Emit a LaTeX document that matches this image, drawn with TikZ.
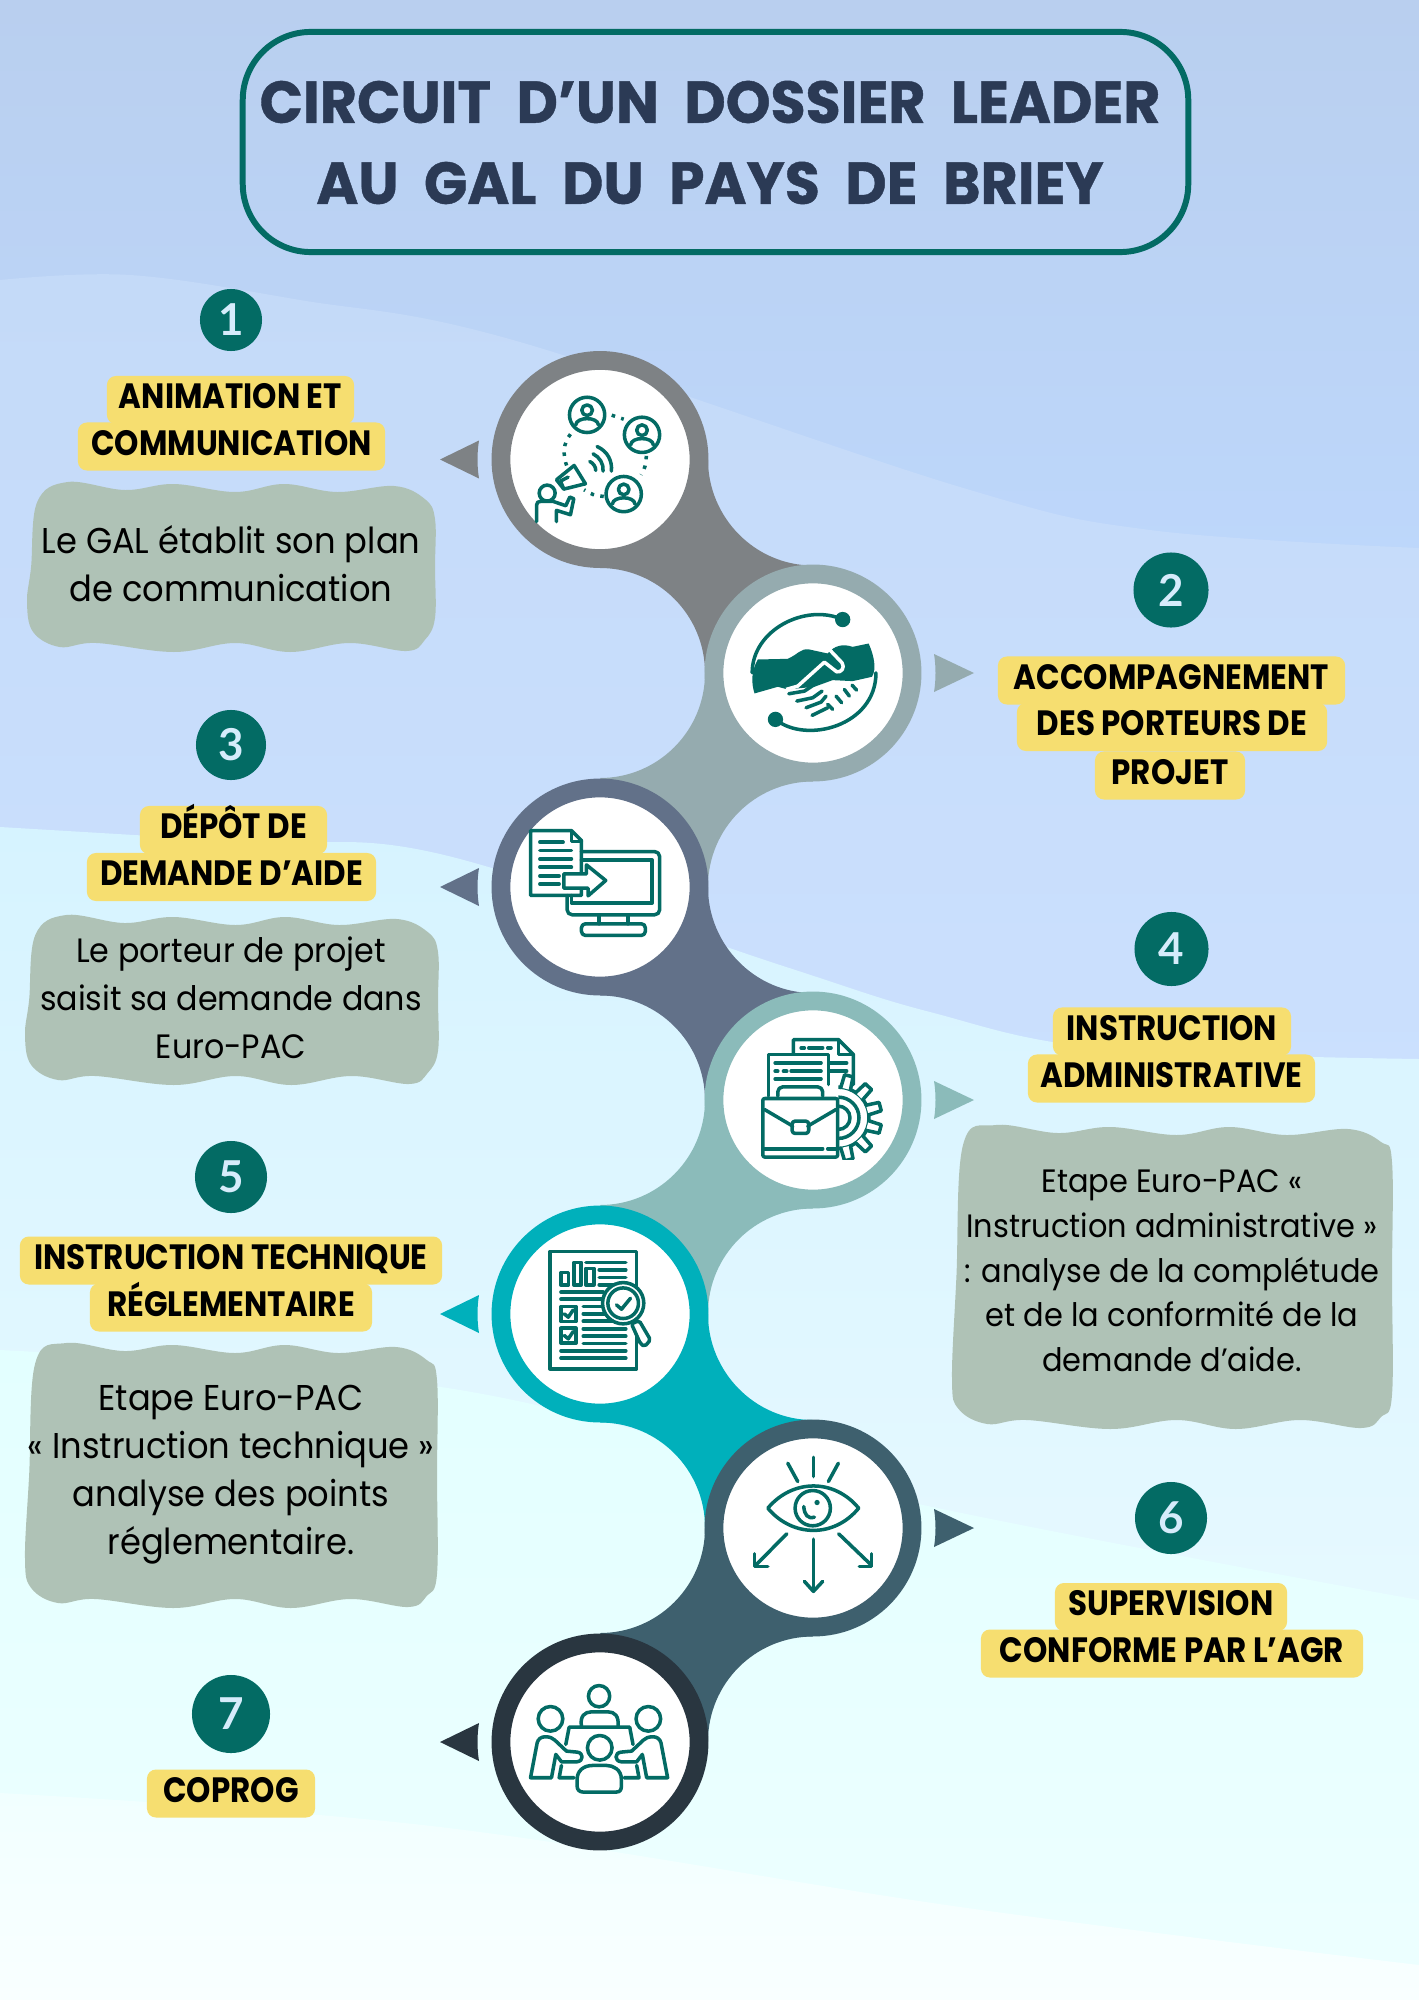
\documentclass[tikz,border=0pt]{standalone}
\usepackage{fontspec}
\usepackage{tikz}
\usetikzlibrary{shapes}
\newfontfamily\titlefont[FakeStretch=0.965,WordSpace=2.1,BoldFeatures={FakeBold=0.7}]{Poppins}
\newfontfamily\labelfont[FakeStretch=0.88]{Poppins}
\newfontfamily\bodyfont[FakeStretch=0.94]{Poppins}
\newfontfamily\digitfont{Lato}
\definecolor{tealdark}{HTML}{036B64}
\definecolor{navytitle}{HTML}{2B3A55}
\definecolor{hiliteyellow}{HTML}{F6DE70}
\definecolor{blobgreen}{HTML}{AFC2B6}
\definecolor{digitblue}{HTML}{D6ECFB}
\definecolor{ringA}{HTML}{7E8285}
\definecolor{ringB}{HTML}{95ABAF}
\definecolor{ringC}{HTML}{627189}
\definecolor{ringD}{HTML}{8BBBBA}
\definecolor{ringE}{HTML}{00B0BB}
\definecolor{ringF}{HTML}{3E606E}
\definecolor{ringG}{HTML}{293640}
\definecolor{skyA}{HTML}{B9CFEF}
\definecolor{skyAb}{HTML}{BDD7FB}
\definecolor{skyB}{HTML}{C4DAF8}
\definecolor{skyBb}{HTML}{CBE0FE}
\definecolor{skyC}{HTML}{D6F3FF}
\definecolor{skyCb}{HTML}{E6F9FF}
\definecolor{skyD}{HTML}{E3FFFF}
\definecolor{skyDb}{HTML}{EDFFFF}
\definecolor{skyE}{HTML}{F1FFFF}
\definecolor{skyEb}{HTML}{F9FFFF}
\pgfdeclarelayer{backlayer}
\pgfdeclarelayer{edgelayer}
\pgfdeclarelayer{nodelayer}
\pgfsetlayers{backlayer,edgelayer,nodelayer,main}
\tikzset{
  titlebox/.style={rectangle,rounded corners=0.68cm,draw=tealdark,line width=1.7pt,minimum width=9.45cm,minimum height=2.2cm,inner sep=0pt},
  titletext/.style={inner sep=0pt,text=navytitle,font=\titlefont\bfseries\fontsize{16.8}{20}\selectfont},
  ringnode/.style={circle,fill=white,draw=#1,line width=0.188cm,minimum size=1.98cm,inner sep=0pt},
  digitnode/.style={circle,fill=tealdark,text=digitblue,inner sep=0pt,minimum size=#1,font=\digitfont\bfseries\fontsize{12.5}{14}\selectfont},
  hilite/.style={rectangle,rounded corners=0.09cm,fill=hiliteyellow,inner sep=0pt,minimum height=0.48cm,minimum width=#1,text=black,text height=0.245cm,text depth=0.07cm,font=\labelfont\bfseries\fontsize{10}{12}\selectfont},
  blobtext/.style={inner sep=0pt,align=center,text=black,font=\bodyfont\fontsize{10.2}{13.66}\selectfont},
  blobfill/.style={fill=blobgreen},
  iconline/.style={draw=tealdark,line width=1pt,line cap=round,line join=round},
  iconA/.style={shift={(440,340)},x=0.003333cm,y=-0.003333cm},
  iconB/.style={shift={(440,780)},x=0.003333cm,y=-0.003333cm},
  iconC/.style={shift={(520,1230)},x=0.003333cm,y=-0.003333cm},
  iconD/.style={shift={(440,1400)},x=0.003333cm,y=-0.003333cm}
}
% band from a ring on the left to the next one on the right, and back
\newcommand{\bandright}[2]{\fill[#2,shift={(#1.center)}] (108,0) .. controls (108,58) and (155,106) .. (213,106) -- (105,213.5) .. controls (105,155.5) and (58,108.5) .. (0,108.5) -- cycle;}
\newcommand{\bandleft}[2]{\fill[#2,shift={(#1.center)}] (-108,0) .. controls (-108,58) and (-155,105) .. (-213,105) -- (-105,213.5) .. controls (-105,155.5) and (-58,108.5) .. (0,108.5) -- cycle;}
\newcommand{\tipleft}[2]{\fill[#2,shift={(#1.center)}] (-160,0) -- (-121,-19) .. controls (-123,-7) and (-123,7) .. (-121,19) -- cycle;}
\newcommand{\tipright}[2]{\fill[#2,shift={(#1.center)}] (161,0) -- (121,-19) .. controls (123,-7) and (123,7) .. (121,19) -- cycle;}
% wavy text panel: left, top, right, bottom
\newcommand{\waveblob}[4]{%
  \pgfmathsetmacro{\wx}{(#3-#1)/100}%
  \pgfmathsetmacro{\hy}{(#4-#2)/100}%
  \fill[style=blobfill] plot[smooth cycle,tension=0.62] coordinates {
    ({#1+10*\wx},{#2}) ({#1+24*\wx},{#2+8}) ({#1+36*\wx},{#2+2}) ({#1+51*\wx},{#2+10})
    ({#1+63*\wx},{#2+2}) ({#1+76*\wx},{#2+10}) ({#1+90*\wx},{#2+4}) ({#1+97.5*\wx},{#2+17})
    ({#1+100*\wx},{#2+37}) ({#1+100*\wx},{#2+50*\hy}) ({#1+100*\wx},{#4-34})
    ({#1+97.5*\wx},{#4-12}) ({#1+93*\wx},{#4-1}) ({#1+79*\wx},{#4-9}) ({#1+64.5*\wx},{#4})
    ({#1+51*\wx},{#4-9}) ({#1+36*\wx},{#4}) ({#1+17*\wx},{#4-9}) ({#1+8*\wx},{#4-5})
    ({#1+1.5*\wx},{#4-20}) ({#1},{#4-50}) ({#1+1*\wx},{#2+50*\hy}) ({#1+2.5*\wx},{#2+20})
  };%
}
\newcommand{\personbadge}[2]{%
  \draw[style=iconline] (#1,#2) circle (53);
  \draw[style=iconline] (#1,{#2-14}) circle (16);
  \draw[style=iconline] ({#1-34},{#2+30}) .. controls ({#1-32},{#2+5}) and ({#1+32},{#2+5}) .. ({#1+34},{#2+30});
}
\begin{document}
\begin{tikzpicture}[x=0.01cm,y=-0.01cm]
	\useasboundingbox (0,0) rectangle (1419,2000);
	\begin{pgfonlayer}{backlayer}
		\shade[top color=skyA,bottom color=skyAb] (0,0) rectangle (1419,560);
		\shade[top color=skyB,bottom color=skyBb] plot[smooth,tension=0.6] coordinates {(0,280) (130,275) (300,300) (513,340) (960,487) (1150,530) (1419,548)} -- (1419,1100) -- (0,1100) -- cycle;
		\shade[top color=skyC,bottom color=skyCb] plot[smooth,tension=0.6] coordinates {(0,827) (250,842) (440,854) (780,965) (930,1012) (1100,1048) (1419,1059)} -- (1419,1620) -- (0,1620) -- cycle;
		\shade[top color=skyD,bottom color=skyDb] plot[smooth,tension=0.6] coordinates {(0,1350) (460,1390) (900,1500) (1419,1600)} -- (1419,2000) -- (0,2000) -- cycle;
		\shade[top color=skyE,bottom color=skyEb] plot[smooth,tension=0.6] coordinates {(0,1793) (440,1827) (960,1907) (1419,1965)} -- (1419,2000) -- (0,2000) -- cycle;
	\end{pgfonlayer}
	\begin{pgfonlayer}{nodelayer}
		\node [style=titlebox] (header) at (715.5,142) {};
		\node [style=titletext] (headerA) at (710,102) {CIRCUIT D’UN DOSSIER LEADER};
		\node [style=titletext] (headerB) at (710,183) {AU GAL DU PAYS DE BRIEY};

		\node [ringnode=ringA] (circA) at (600,459.5) {};
		\node [ringnode=ringB] (circB) at (813,673) {};
		\node [ringnode=ringC] (circC) at (600,887) {};
		\node [ringnode=ringD] (circD) at (813,1100) {};
		\node [ringnode=ringE] (circE) at (600,1314) {};
		\node [ringnode=ringF] (circF) at (813,1528) {};
		\node [ringnode=ringG] (circG) at (600,1742) {};

		\node [digitnode=0.62cm] (numA) at (231,320) {1};
		\node [digitnode=0.75cm] (numB) at (1171,590) {2};
		\node [digitnode=0.70cm] (numC) at (231,745) {3};
		\node [digitnode=0.74cm] (numD) at (1171.5,949) {4};
		\node [digitnode=0.72cm] (numE) at (231,1177) {5};
		\node [digitnode=0.72cm] (numF) at (1171,1518) {6};
		\node [digitnode=0.78cm] (numG) at (231,1714) {7};

		\node [hilite=2.47cm] (labA) at (230.5,400) {ANIMATION ET};
		\node [hilite=3.07cm] (labAb) at (231.5,446.5) {COMMUNICATION};
		\node [hilite=3.47cm] (labB) at (1171.5,680.5) {ACCOMPAGNEMENT};
		\node [hilite=3.10cm] (labBb) at (1172,727) {DES PORTEURS DE};
		\node [hilite=1.50cm] (labBc) at (1170,775.5) {PROJET};
		\node [hilite=1.87cm] (labC) at (233.5,830) {DÉPÔT DE};
		\node [hilite=2.89cm] (labCb) at (231.5,877) {DEMANDE D’AIDE};
		\node [hilite=2.38cm] (labD) at (1172,1031.5) {INSTRUCTION};
		\node [hilite=2.87cm] (labDb) at (1171.5,1078.5) {ADMINISTRATIVE};
		\node [hilite=4.22cm] (labE) at (231,1260.5) {INSTRUCTION TECHNIQUE};
		\node [hilite=2.82cm] (labEb) at (231,1307.5) {RÉGLEMENTAIRE};
		\node [hilite=2.32cm] (labF) at (1171,1607) {SUPERVISION};
		\node [hilite=3.82cm] (labFb) at (1172,1653.5) {CONFORME PAR L’AGR};
		\node [hilite=1.68cm] (labG) at (231,1793.5) {COPROG};
	\end{pgfonlayer}
	\begin{pgfonlayer}{edgelayer}
		\bandright{circA}{ringA}
		\bandleft{circB}{ringB}
		\bandright{circC}{ringC}
		\bandleft{circD}{ringD}
		\bandright{circE}{ringE}
		\bandleft{circF}{ringF}
		\tipleft{circA}{ringA}
		\tipright{circB}{ringB}
		\tipleft{circC}{ringC}
		\tipright{circD}{ringD}
		\tipleft{circE}{ringE}
		\tipright{circF}{ringF}
		\tipleft{circG}{ringG}
		\waveblob{27}{482}{435}{652}
		\waveblob{25}{915}{438}{1085}
		\waveblob{952}{1125}{1392}{1429}
		\waveblob{25}{1343}{437}{1608}
	\end{pgfonlayer}

	\node [style=blobtext] (textA) at (231,564) {Le GAL établit son plan\\de communication};
	\node [style=blobtext,font=\bodyfont\fontsize{9.6}{13.66}\selectfont] (textC) at (231,998) {Le porteur de projet\\saisit sa demande dans\\Euro-PAC};
	\node [style=blobtext,font=\bodyfont\fontsize{9.2}{12.7}\selectfont] (textD) at (1172,1271) {Etape Euro-PAC «\\Instruction administrative »\\: analyse de la complétude\\et de la conformité de la\\demande d’aide.};
	\node [style=blobtext] (textE) at (231,1475) {Etape Euro-PAC\\« Instruction technique »\\analyse des points\\réglementaire.};

	% people and megaphone
	\begin{scope}[style=iconA]
		\personbadge{442}{225}
		\personbadge{607}{285}
		\personbadge{552}{463}
		\draw[style=iconline,line cap=butt,dash pattern=on 1pt off 1.8pt] (392,283) .. controls (370,310) and (368,345) .. (382,382);
		\draw[style=iconline,line cap=butt,dash pattern=on 1pt off 1.8pt] (516,226) -- (552,238);
		\draw[style=iconline,line cap=butt,dash pattern=on 1pt off 1.8pt] (620,348) .. controls (620,370) and (615,390) .. (604,405);
		\draw[style=iconline,line cap=butt,dash pattern=on 1pt off 1.8pt] (492,470) .. controls (470,470) and (450,462) .. (433,450);
		\draw[style=iconline] (472,320) .. controls (505,335) and (518,365) .. (515,394);
		\draw[style=iconline] (460,342) .. controls (480,352) and (492,372) .. (490,394);
		\draw[style=iconline] (450,365) .. controls (460,370) and (468,380) .. (468,392);
		\draw[style=iconline,fill=white] (350,420) -- (403,377) -- (437,432) -- (372,448) -- cycle;
		\draw[style=iconline] (372,448) -- (362,424) -- (385,412);
		\draw[style=iconline] (322,460) circle (24);
		\draw[style=iconline] (290,546) -- (290,497) .. controls (290,488) and (295,485) .. (302,485) -- (340,485) -- (378,498) -- (390,472) -- (402,477) -- (392,525) -- (350,512) -- (350,546);
	\end{scope}
	% handshake
	\begin{scope}[style=iconA]
		\draw[style=iconline] (1210,840) .. controls (1100,790) and (938,870) .. (938,1000);
		\draw[style=iconline] (1008,1140) .. controls (1100,1215) and (1310,1160) .. (1310,1000);
		\fill[tealdark] (1210,840) circle (23);
		\fill[tealdark] (1008,1140) circle (23);
		\fill[tealdark] (955,960) -- (1045,958) .. controls (1075,945) and (1085,925) .. (1110,930) -- (1165,942) .. controls (1185,918) and (1210,912) .. (1240,922) -- (1288,912) .. controls (1305,950) and (1312,990) .. (1298,1012) -- (1240,1025) -- (1180,1022) -- (1125,1042) -- (1045,1050) -- (1015,1042) -- (945,1062) .. controls (935,1030) and (935,995) .. cycle;
		\draw[white,line width=1pt,line join=round] (1040,1050) -- (1075,1040) -- (1155,968) -- (1192,997) .. controls (1205,1000) and (1218,985) .. (1208,970) -- (1170,930);
		\draw[style=iconline] (1048,1063) -- (1095,1055) -- (1125,1035);
		\draw[style=iconline] (1072,1085) -- (1120,1075) -- (1148,1055);
		\draw[style=iconline] (1100,1105) -- (1145,1088) -- (1160,1070);
		\draw[style=iconline] (1118,1128) -- (1165,1105);
		\draw[style=iconline] (1165,1095) -- (1180,1110);
		\draw[style=iconline] (1190,1070) -- (1207,1090);
		\draw[style=iconline] (1215,1050) -- (1230,1070);
		\draw[style=iconline] (1238,1037) -- (1252,1052);
	\end{scope}
	% document sent to a screen
	\begin{scope}[style=iconB]
		\draw[style=iconline] (272,152) -- (395,152) -- (425,182) -- (425,347) -- (272,347) -- cycle;
		\draw[style=iconline] (395,155) -- (395,185) -- (425,185);
		\draw[style=iconline] (300,187) -- (370,187);
		\draw[style=iconline] (300,212) -- (395,212);
		\draw[style=iconline] (300,237) -- (395,237);
		\draw[style=iconline] (300,262) -- (395,262);
		\draw[style=iconline] (300,288) -- (358,288);
		\draw[style=iconline] (300,313) -- (358,313);
		\draw[style=iconline,rounded corners=0.05cm] (425,215) -- (660,215) -- (660,405) -- (382,405) -- (382,347);
		\draw[style=iconline] (425,240) -- (637,240) -- (637,370) -- (395,370) -- (395,347);
		\draw[style=iconline] (478,405) -- (478,432);
		\draw[style=iconline] (565,405) -- (565,432);
		\draw[style=iconline,rounded corners=0.04cm] (425,467) -- (425,432) -- (617,432) -- (617,467) -- cycle;
		\draw[style=iconline,fill=white] (372,282) -- (440,282) -- (440,255) -- (498,302) -- (445,348) -- (445,325) -- (372,325) -- cycle;
	\end{scope}
	% briefcase, papers and gear
	\begin{scope}[style=iconB]
		\draw[style=iconline] (1062,822) -- (1062,780) -- (1197,780) -- (1242,825) -- (1242,915);
		\draw[style=iconline] (1197,785) -- (1197,825) -- (1242,825);
		\draw[style=iconline] (1085,805) -- (1095,805);
		\draw[style=iconline] (1108,805) -- (1150,805);
		\draw[style=iconline] (1165,805) -- (1175,805);
		\draw[style=iconline] (987,950) -- (987,825) -- (1167,825) -- (1167,915);
		\draw[style=iconline] (1007,850) -- (1145,850);
		\draw[style=iconline] (1007,875) -- (1015,875);
		\draw[style=iconline] (1032,875) -- (1042,875);
		\draw[style=iconline] (1055,875) -- (1145,875);
		\draw[style=iconline] (1007,898) -- (1145,898);
		\draw[style=iconline] (1170,850) -- (1222,850);
		\draw[style=iconline] (1170,875) -- (1222,875);
		\draw[style=iconline,rounded corners=0.05cm] (1015,950) -- (1015,922) -- (1150,922) -- (1150,950);
		\begin{scope}
			\clip (1197,880) rectangle (1345,1140);
			\draw[style=iconline] (1197,1015) circle (92);
			\draw[style=iconline] (1197,1015) circle (62);
			\draw[style=iconline] (1197,1015) circle (35);
			\foreach \ang in {-76,-46,-15,15,46,76}
				\draw[style=iconline,fill=white,shift={(1197,1015)},rotate=\ang] (90,-15) -- (130,-13) -- (130,13) -- (90,15);
		\end{scope}
		\draw[style=iconline,fill=white,rounded corners=0.02cm] (970,957) -- (1195,957) -- (1195,1133) -- (970,1133) -- cycle;
		\draw[style=iconline] (975,990) -- (1060,1040);
		\draw[style=iconline] (1190,990) -- (1105,1040);
		\draw[style=iconline,rounded corners=0.03cm] (1058,1025) -- (1108,1025) -- (1108,1062) -- (1058,1062) -- cycle;
		\draw[style=iconline] (975,1108) -- (1150,1108);
		\draw[style=iconline] (1165,1108) -- (1190,1108);
	\end{scope}
	% report under a magnifying glass
	\begin{scope}[style=iconC]
		\draw[style=iconline] (90,65) rectangle (350,417);
		\draw[style=iconline] (123,128) rectangle (146,165);
		\draw[style=iconline] (162,97) rectangle (184,165);
		\draw[style=iconline] (198,115) rectangle (222,165);
		\draw[style=iconline] (198,97) -- (318,97);
		\draw[style=iconline] (238,120) -- (318,120);
		\draw[style=iconline] (238,143) -- (318,143);
		\draw[style=iconline] (238,165) -- (300,165);
		\draw[style=iconline] (123,187) -- (250,187);
		\draw[style=iconline] (123,208) -- (245,208);
		\draw[style=iconline] (123,230) rectangle (168,275);
		\draw[style=iconline] (133,252) -- (145,262) -- (160,240);
		\draw[style=iconline] (123,295) rectangle (168,340);
		\draw[style=iconline] (133,317) -- (145,327) -- (160,305);
		\draw[style=iconline] (190,230) -- (248,230);
		\draw[style=iconline] (190,252) -- (255,252);
		\draw[style=iconline] (190,274) -- (280,274);
		\draw[style=iconline] (190,297) -- (318,297);
		\draw[style=iconline] (190,319) -- (318,319);
		\draw[style=iconline] (190,341) -- (318,341);
		\draw[style=iconline] (123,363) -- (318,363);
		\draw[style=iconline] (123,385) -- (318,385);
		\draw[style=iconline,fill=white,rounded corners=0.02cm] (335,282) -- (358,272) -- (392,330) -- (375,350) -- (362,342) -- cycle;
		\draw[style=iconline,fill=white] (310,220) circle (62);
		\draw[style=iconline] (310,220) circle (46);
		\draw[style=iconline] (290,225) -- (305,238) -- (332,205);
	\end{scope}
	% eye and arrows
	\begin{scope}[style=iconD]
		\draw[style=iconline] (1045,190) -- (1075,245);
		\draw[style=iconline] (1122,172) -- (1122,230);
		\draw[style=iconline] (1197,190) -- (1167,245);
		\draw[style=iconline] (985,325) .. controls (1060,236) and (1185,236) .. (1258,325) .. controls (1185,414) and (1060,414) .. cycle;
		\draw[style=iconline] (1120,325) circle (53);
		\fill[tealdark] (1133,308) circle (8);
		\draw[style=iconline] (1093,320) .. controls (1095,345) and (1105,358) .. (1125,352);
		\draw[style=iconline] (1042,402) -- (948,497);
		\draw[style=iconline] (945,462) -- (945,500) -- (985,500);
		\draw[style=iconline] (1122,418) -- (1122,572);
		\draw[style=iconline] (1095,545) -- (1122,575) -- (1150,545);
		\draw[style=iconline] (1198,402) -- (1297,497);
		\draw[style=iconline] (1297,462) -- (1297,500) -- (1260,500);
	\end{scope}
	% meeting table
	\begin{scope}[style=iconD]
		\draw[style=iconline] (478,890) circle (32);
		\draw[style=iconline] (332,958) circle (37);
		\draw[style=iconline] (626,958) circle (37);
		\draw[style=iconline] (480,1045) circle (37);
		\draw[style=iconline] (425,980) .. controls (420,950) and (435,937) .. (455,937) -- (505,937) .. controls (525,937) and (538,950) .. (535,980);
		\draw[style=iconline] (378,1035) -- (388,983) -- (570,983) -- (580,1035);
		\draw[style=iconline] (430,1178) -- (530,1178) .. controls (542,1178) and (545,1170) .. (545,1160) -- (545,1140) .. controls (545,1110) and (520,1098) .. (500,1098) -- (460,1098) .. controls (430,1098) and (412,1115) .. (412,1140) -- (412,1160) .. controls (412,1170) and (418,1178) .. cycle;
		\draw[style=iconline] (272,1135) -- (292,1030) .. controls (295,1018) and (305,1012) .. (315,1012) .. controls (330,1012) and (338,1015) .. (345,1022) -- (380,1055) -- (412,1058) .. controls (432,1060) and (432,1085) .. (412,1087) -- (365,1087) -- (348,1065) -- (335,1135) -- cycle;
		\draw[style=iconline] (684,1135) -- (664,1030) .. controls (661,1018) and (651,1012) .. (641,1012) .. controls (626,1012) and (618,1015) .. (611,1022) -- (576,1055) -- (544,1058) .. controls (524,1060) and (524,1085) .. (544,1087) -- (591,1087) -- (608,1065) -- (621,1135) -- cycle;
		\draw[style=iconline] (365,1098) -- (358,1135) -- (403,1135);
		\draw[style=iconline] (591,1098) -- (598,1135) -- (553,1135);
	\end{scope}
\end{tikzpicture}
\end{document}
